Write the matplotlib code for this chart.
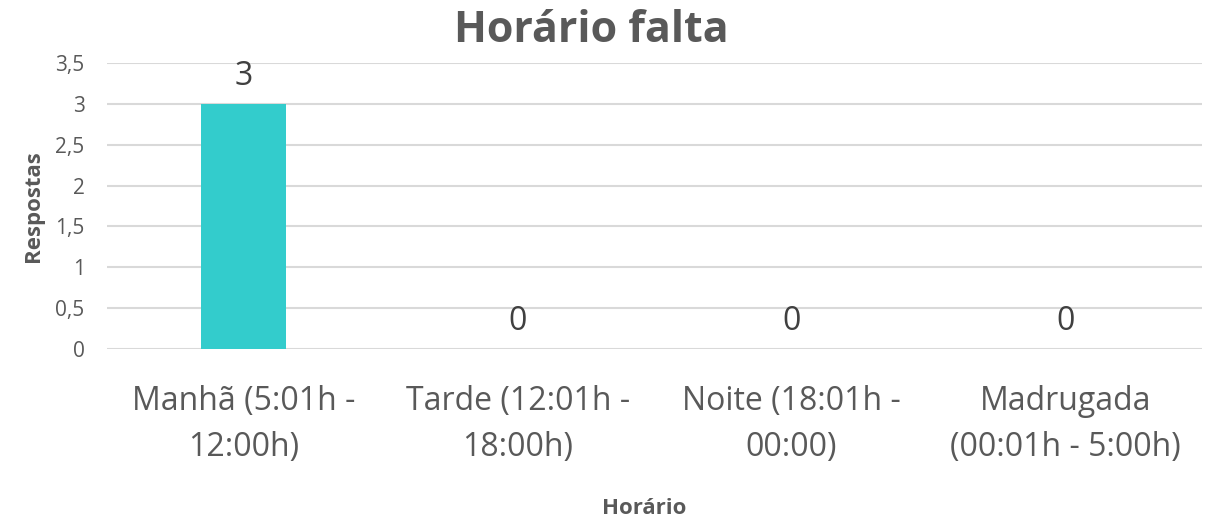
import matplotlib
matplotlib.use("Agg")
from matplotlib import pyplot as plt
from matplotlib.ticker import FuncFormatter, MultipleLocator

# Chart data
CATEGORIES = [
    "Manhã (5:01h -\n12:00h)",
    "Tarde (12:01h -\n18:00h)",
    "Noite (18:01h -\n00:00)",
    "Madrugada\n(00:01h - 5:00h)",
]
RESPOSTAS = [3, 0, 0, 0]

TITLE = "Horário falta"
X_LABEL = "Horário"
Y_LABEL = "Respostas"

BAR_COLOR = "#33CCCC"
TEXT_COLOR = "#595959"
GRID_COLOR = "#D9D9D9"

plt.rcParams["font.family"] = ["Open Sans", "DejaVu Sans"]

fig = plt.figure(figsize=(12.1, 5.18), dpi=100)
ax = fig.add_axes([0.0884, 0.3263, 0.905, 0.5521])

positions = range(len(CATEGORIES))
bars = ax.bar(positions, RESPOSTAS, width=0.31, color=BAR_COLOR, zorder=3)

for rect, val in zip(bars, RESPOSTAS):
    ax.annotate(f"{val}", (rect.get_x() + rect.get_width() / 2, rect.get_height()),
                xytext=(0, 8), textcoords="offset points", ha="center", va="bottom",
                fontsize=23, color="#404040")

ax.set_xlim(-0.5, len(CATEGORIES) - 0.5)
ax.set_ylim(0, 3.5)
ax.yaxis.set_major_locator(MultipleLocator(0.5))
ax.yaxis.set_major_formatter(FuncFormatter(lambda v, _: f"{v:g}".replace(".", ",")))
ax.grid(axis="y", color=GRID_COLOR, linewidth=1.5, zorder=0)
ax.set_axisbelow(True)

for side in ["top", "right", "left", "bottom"]:
    ax.spines[side].set_visible(False)

ax.set_xticks(list(positions))
ax.set_xticklabels(CATEGORIES, fontsize=23, color=TEXT_COLOR, linespacing=1.52)
ax.tick_params(axis="x", length=0, pad=26)
ax.tick_params(axis="y", length=0, pad=16, labelsize=15, labelcolor=TEXT_COLOR)

# title sits a little left of the plot centre, like the original
fig.text(0.489, 0.942, TITLE, ha="center", va="center",
         fontsize=31, fontweight="bold", color=TEXT_COLOR)
ax.set_xlabel(X_LABEL, fontsize=16, fontweight="bold", color=TEXT_COLOR)
ax.xaxis.set_label_coords(0.491, -0.52)
ax.set_ylabel(Y_LABEL, fontsize=16, fontweight="bold", color=TEXT_COLOR, labelpad=8)

fig.savefig("out.png", dpi=100)
